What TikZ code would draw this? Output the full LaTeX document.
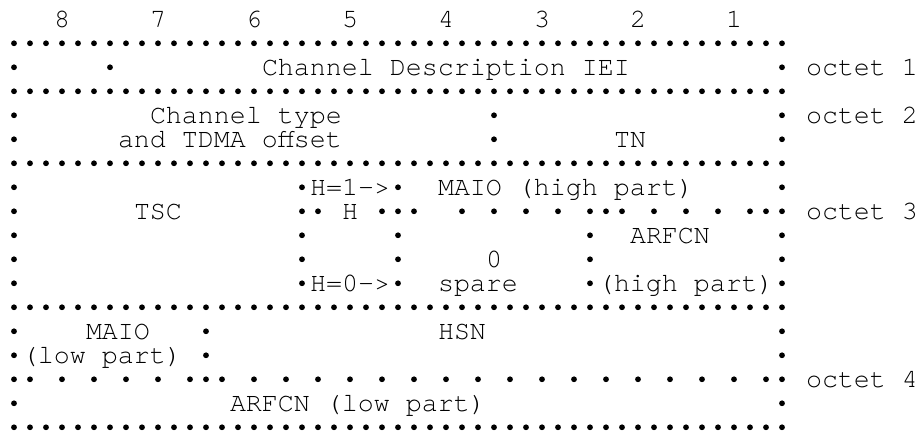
\documentclass[tikz,border=0pt]{standalone}
\usepackage{fontspec}
\newfontfamily\monofam{TeX Gyre Cursor}
\newcommand\monof{\monofam\fontsize{26.66pt}{24pt}\selectfont}
\tikzset{
  bul/.style={fill=black},
  mtxt/.style={anchor=base west, inner sep=0pt, outer sep=0pt, font=\monof},
  stxt/.style={anchor=base, inner sep=0pt, outer sep=0pt, font=\monof}
}
% row r, list of columns
\newcommand\dotrow[2]{\foreach \c in {#2} {\fill[bul] ({14+16*\c},{413.7-24*#1}) circle (2.9);}}
% row, column, text
\newcommand\mtext[3]{\node[mtxt] (m#1-#2) at ({14+16*#2-8},{413.7-24*#1-8}) {#3};}
\newcommand\stext[3]{\node[stxt] (s#1-#2) at ({14+16*#2},{413.7-24*#1-8}) {#3};}
\begin{document}
\begin{tikzpicture}[x=1pt,y=1pt]
\useasboundingbox (0,0) rectangle (921,433);
% bit numbers
\mtext{0}{3}{8}\mtext{0}{9}{7}\mtext{0}{15}{6}\mtext{0}{21}{5}
\mtext{0}{27}{4}\mtext{0}{33}{3}\mtext{0}{39}{2}\mtext{0}{45}{1}
% full borders
\dotrow{1}{0,...,48}
\dotrow{3}{0,...,48}
\dotrow{6}{0,...,48}
\dotrow{12}{0,...,48}
\dotrow{17}{0,...,48}
% octet 1
\dotrow{2}{0,6,48}
\mtext{2}{16}{Channel Description IEI}
\mtext{2}{50}{octet 1}
% octet 2
\dotrow{4}{0,30,48}
\dotrow{5}{0,30,48}
\mtext{4}{9}{Channel type}
\mtext{5}{7}{and TDMA offset}
\mtext{5}{38}{TN}
\mtext{4}{50}{octet 2}
% octet 3
\dotrow{7}{0,18,24,48}
\stext{7}{19}{H}\stext{7}{20}{=}\stext{7}{21}{1}\stext{7}{22}{-}\stext{7}{23}{>}
\mtext{7}{27}{MAIO (high part)}
\dotrow{8}{0,18,19,23,24,25,28,30,32,34,36,37,38,40,42,44,46,47,48}
\mtext{8}{8}{TSC}
\stext{8}{21}{H}
\mtext{8}{50}{octet 3}
\dotrow{9}{0,18,24,36,48}
\mtext{9}{39}{ARFCN}
\dotrow{10}{0,18,24,36,48}
\mtext{10}{30}{0}
\dotrow{11}{0,18,24,36,48}
\stext{11}{19}{H}\stext{11}{20}{=}\stext{11}{21}{0}\stext{11}{22}{-}\stext{11}{23}{>}
\mtext{11}{27}{spare}
\mtext{11}{37}{(high part)}
% octet 4
\dotrow{13}{0,12,48}
\mtext{13}{5}{MAIO}
\mtext{13}{27}{HSN}
\dotrow{14}{0,12,48}
\mtext{14}{1}{(low part)}
\dotrow{15}{0,1,3,...,47,12,48}
\mtext{15}{50}{octet 4}
\dotrow{16}{0,48}
\mtext{16}{14}{ARFCN (low part)}
\end{tikzpicture}
\end{document}
